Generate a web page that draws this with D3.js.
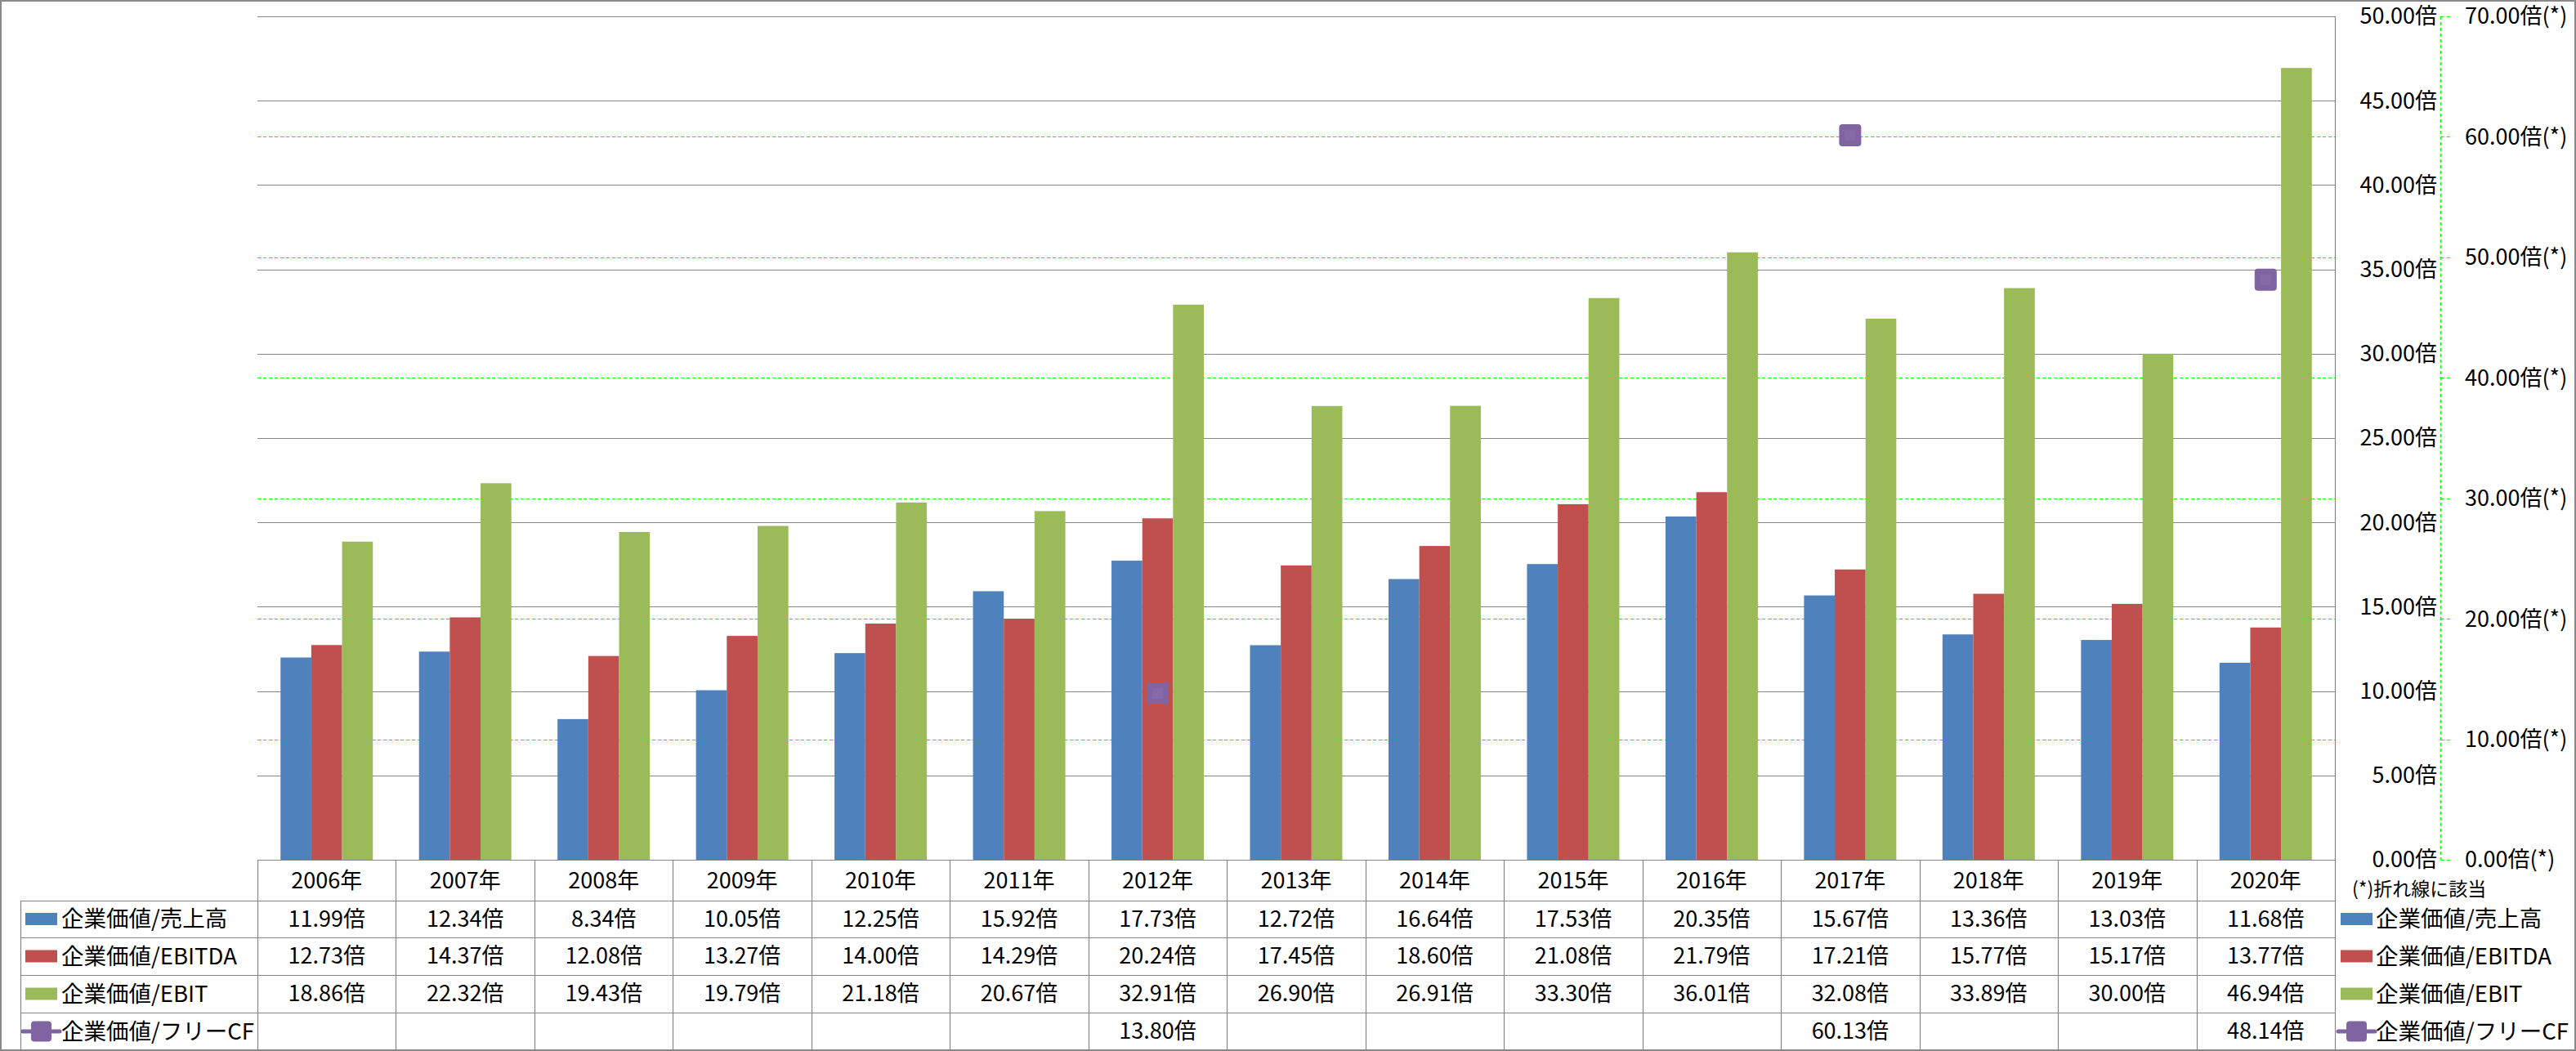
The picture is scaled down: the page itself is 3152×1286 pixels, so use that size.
<!DOCTYPE html>
<html><head><meta charset="utf-8">
<script src="https://cdn.jsdelivr.net/npm/d3@7"></script>
<style>
html,body{margin:0;padding:0;background:#fff;}
svg text{font-family:"Noto Sans CJK JP","Noto Sans",sans-serif;fill:#000;}
</style></head>
<body><svg id="c" width="3152" height="1286"></svg>
<script>
const categories = ["2006年","2007年","2008年","2009年","2010年","2011年","2012年","2013年","2014年","2015年","2016年","2017年","2018年","2019年","2020年"];
const seriesNames = ["企業価値/売上高","企業価値/EBITDA","企業価値/EBIT","企業価値/フリーCF"];
const salesValues  = [11.99,12.34,8.34,10.05,12.25,15.92,17.73,12.72,16.64,17.53,20.35,15.67,13.36,13.03,11.68];
const ebitdaValues = [12.73,14.37,12.08,13.27,14.00,14.29,20.24,17.45,18.60,21.08,21.79,17.21,15.77,15.17,13.77];
const ebitValues   = [18.86,22.32,19.43,19.79,21.18,20.67,32.91,26.90,26.91,33.30,36.01,32.08,33.89,30.00,46.94];
const fcfValues    = [null,null,null,null,null,null,13.80,null,null,null,null,60.13,null,null,48.14];
const primaryTicks = [0,5,10,15,20,25,30,35,40,45,50];
const secondaryTicks = [0,10,20,30,40,50,60,70];
const colors = ["#4F81BD","#C0504D","#9BBB59","#8064A2"];

const svg = d3.select("#c");
const X0 = 315, X1 = 2857, Y0 = 20, Y1 = 1052;
const gridCol = "#878787", green = "#00FF00";

const x = d3.scaleBand().domain(categories).range([X0, X1]).padding(0);
const xs = d3.scaleBand().domain([0,1,2]).range([0, x.bandwidth()]).paddingInner(0).paddingOuter(0.75);
const y = d3.scaleLinear().domain([0,50]).range([Y1, Y0]);
const y2 = d3.scaleLinear().domain([0,70]).range([Y1, Y0]);

// outer border
svg.append("rect").attr("x",1).attr("y",1).attr("width",3150).attr("height",1284)
  .attr("fill","none").attr("stroke","#898989").attr("stroke-width",2);

// secondary gridlines (green dashed)
svg.append("g").selectAll("line").data(secondaryTicks.filter(d=>d>0)).join("line")
  .attr("x1",X0).attr("x2",X1).attr("y1",d=>Math.round(y2(d))+0.5).attr("y2",d=>Math.round(y2(d))+0.5)
  .attr("stroke",green).attr("stroke-width",1.2).attr("stroke-dasharray","4,3");
// primary gridlines
svg.append("g").selectAll("line").data(primaryTicks.filter(d=>d>0)).join("line")
  .attr("x1",X0).attr("x2",X1).attr("y1",d=>Math.round(y(d))+0.5).attr("y2",d=>Math.round(y(d))+0.5)
  .attr("stroke",gridCol).attr("stroke-width",1.2);

// bars
const barSeries = [salesValues, ebitdaValues, ebitValues];
barSeries.forEach((vals, si) => {
  svg.append("g").selectAll("rect").data(vals).join("rect")
    .attr("x",(d,i)=>x(categories[i]) + xs(si))
    .attr("width", xs.bandwidth())
    .attr("y", d=>y(d))
    .attr("height", d=>Y1 - y(d))
    .attr("fill", colors[si]);
});

// FCF markers
const ms = 27;
const mk = svg.append("g").selectAll("g").data(fcfValues.map((v,i)=>({v,c:categories[i]})).filter(d=>d.v!=null)).join("g")
  .attr("transform", d=>`translate(${x(d.c)+x.bandwidth()/2},${y2(d.v)})`);
mk.append("rect").attr("x",-ms/2).attr("y",-ms/2).attr("width",ms).attr("height",ms).attr("rx",4)
  .attr("fill",colors[3]);
mk.append("rect").attr("x",-6.5).attr("y",-6.5).attr("width",13).attr("height",13)
  .attr("fill","#8669a8");

// primary axis (right)
svg.append("line").attr("x1",X1+0.5).attr("x2",X1+0.5).attr("y1",Y0).attr("y2",Y1).attr("stroke",gridCol).attr("stroke-width",1.2);
svg.append("g").selectAll("text").data(primaryTicks).join("text")
  .attr("x",2982).attr("y",d=>y(d)).attr("dy","0.35em").attr("text-anchor","end")
  .attr("font-size",27).text(d=>d.toFixed(2)+"倍");

// secondary axis
const AX2 = 2986.5;
svg.append("line").attr("x1",AX2).attr("x2",AX2).attr("y1",Y0).attr("y2",Y1)
  .attr("stroke",green).attr("stroke-width",1.2).attr("stroke-dasharray","4,3");
svg.append("g").selectAll("line").data(secondaryTicks).join("line")
  .attr("x1",AX2).attr("x2",2998).attr("y1",d=>Math.round(y2(d))+0.5).attr("y2",d=>Math.round(y2(d))+0.5)
  .attr("stroke",green).attr("stroke-width",1.2).attr("stroke-dasharray","4,3");
svg.append("g").selectAll("text").data(secondaryTicks).join("text")
  .attr("x",3016).attr("y",d=>y2(d)).attr("dy","0.35em").attr("text-anchor","start")
  .attr("font-size",27).text(d=>d.toFixed(2)+"倍(*)");

svg.append("text").attr("x",2878).attr("y",1088).attr("dy","0.35em").attr("font-size",23).text("(*)折れ線に該当");

// data table
const rowLines = [1102,1147,1193,1239];
const TL = 25;
const tb = svg.append("g").attr("stroke",gridCol).attr("stroke-width",1.2);
tb.append("line").attr("x1",X0).attr("x2",X1).attr("y1",Y1+0.5).attr("y2",Y1+0.5);
rowLines.forEach(r=>tb.append("line").attr("x1",TL).attr("x2",X1).attr("y1",r+0.5).attr("y2",r+0.5));
tb.append("line").attr("x1",TL+0.5).attr("x2",TL+0.5).attr("y1",1102).attr("y2",1285);
const vlines = categories.map(c=>x(c)).concat([X1]);
tb.selectAll("line.v").data(vlines).join("line").attr("class","v")
  .attr("x1",d=>Math.round(d)+0.5).attr("x2",d=>Math.round(d)+0.5).attr("y1",Y1).attr("y2",1285);

// year labels
svg.append("g").selectAll("text").data(categories).join("text")
  .attr("x",d=>x(d)+x.bandwidth()/2).attr("y",1078).attr("dy","0.35em").attr("text-anchor","middle")
  .attr("font-size",27).text(d=>d);

const rowCenters = [1124.5,1170,1216,1262];
const allSeries = [salesValues, ebitdaValues, ebitValues, fcfValues];
allSeries.forEach((vals, si) => {
  svg.append("g").selectAll("text").data(vals.map((v,i)=>({v,c:categories[i]})).filter(d=>d.v!=null)).join("text")
    .attr("x",d=>x(d.c)+x.bandwidth()/2).attr("y",rowCenters[si]).attr("dy","0.35em").attr("text-anchor","middle")
    .attr("font-size",27).text(d=>d.v.toFixed(2)+"倍");
});

// legends (left in table and right)
function legend(sx, tx) {
  seriesNames.forEach((n, si) => {
    const cy = rowCenters[si];
    if (si < 3) {
      svg.append("rect").attr("x",sx).attr("y",cy-7.5).attr("width",39).attr("height",15).attr("fill",colors[si]);
    } else {
      svg.append("line").attr("x1",sx-3).attr("x2",sx+42).attr("y1",cy).attr("y2",cy)
        .attr("stroke",colors[3]).attr("stroke-width",5).attr("stroke-linecap","round");
      svg.append("rect").attr("x",sx+7).attr("y",cy-12.5).attr("width",25).attr("height",25).attr("rx",4).attr("fill",colors[3]);
    }
    svg.append("text").attr("x",tx).attr("y",cy).attr("dy","0.36em").attr("font-size",27.5).text(n);
  });
}
legend(31, 75);
legend(2864, 2907);
</script></body></html>
